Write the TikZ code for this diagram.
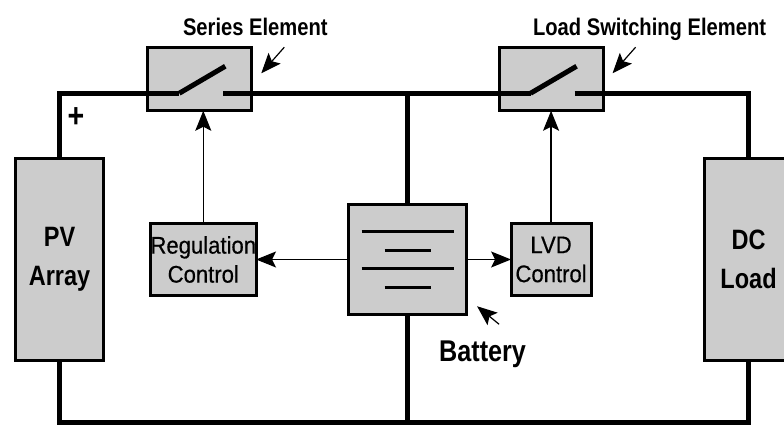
\documentclass[tikz,border=0pt]{standalone}
\usepackage{fontspec}
\usepackage{tikz}
\usetikzlibrary{
    arrows.meta,
    positioning,
    calc
}
\setmainfont{Liberation Sans}
\newfontfamily\blockfont[FakeStretch=0.92,FakeBold=0.5]{Liberation Sans}
\newfontfamily\labelfont[FakeStretch=0.84]{Liberation Sans Bold}
\definecolor{blockgray}{RGB}{204,204,204}

\begin{document}
\begin{tikzpicture}[
    x=1pt,
    y=1pt,
    blockbox/.style={
        draw=black,
        line width=3pt,
        fill=blockgray,
        align=center,
        outer sep=0pt,
        inner sep=0pt,
        text=black
    },
    sourcebox/.style={
        blockbox,
        minimum width=88pt,
        minimum height=202pt,
        font=\labelfont\fontsize{28}{39}\selectfont
    },
    controlbox/.style={
        blockbox,
        minimum height=72.5pt,
        font=\blockfont\fontsize{24}{29}\selectfont
    },
    switchbox/.style={
        blockbox,
        minimum width=104pt,
        minimum height=63pt
    },
    railline/.style={
        line width=5pt,
        draw=black
    },
    plateline/.style={
        line width=3pt,
        draw=black
    },
    ctrlarrow/.style={
        -{Stealth[length=20pt,width=16pt,inset=4pt]},
        line width=1.2pt,
        draw=black
    },
    pointerarrow/.style={
        -{Stealth[length=20pt,width=16pt,inset=4pt]},
        line width=1.2pt,
        draw=black
    },
    tagtext/.style={
        font=\labelfont\fontsize{24}{28}\selectfont,
        text depth=0pt,
        inner sep=0pt
    }
]

\useasboundingbox (0,0) rectangle (784,425);

\node[sourcebox] (pv) at (59.5,165.5) {PV\\Array};

\node[
    controlbox,
    minimum width=104pt,
    right=47pt of pv
] (regulation) {Regulation\\Control};

\node[
    blockbox,
    minimum width=118pt,
    minimum height=109.5pt,
    right=92.5pt of regulation
] (battery) {};

\node[
    controlbox,
    minimum width=80pt,
    right=44.5pt of battery
] (lvd) {LVD\\Control};

\node[
    sourcebox,
    minimum width=89pt,
    right=113pt of lvd
] (dcload) {DC\\Load};

\node[
    switchbox,
    above=112.5pt of regulation,
    xshift=-3.5pt
] (series) {};

\node[
    switchbox,
    above=112.5pt of lvd
] (loadsw) {};

\node[tagtext, above=12.5pt of series, xshift=55.5pt] (seriestag) {Series Element};
\node[tagtext, above=12.5pt of loadsw, xshift=98.5pt] (loadtag) {Load Switching Element};
\node[tagtext, font=\labelfont\fontsize{30}{34}\selectfont, text height=21pt, below=26pt of battery, xshift=75pt] (batterytag) {Battery};
\node[tagtext, font=\labelfont\fontsize{34}{34}\selectfont, above right=31pt and 8pt of pv.north] (plus) {+};

% switch contacts
\foreach \sw in {series,loadsw} {
    \coordinate (\sw in) at ($(\sw.center)+(-20.5,-14)$);
    \coordinate (\sw out) at ($(\sw.center)+(23.5,-14)$);
    \coordinate (\sw blade) at ($(\sw.center)+(25.5,13)$);
    \draw[railline] (\sw in) -- (\sw blade);
}

\coordinate (pvfoot) at ($(pv.south)+(0,-62)$);
\coordinate (dcfoot) at (dcload.south |- pvfoot);

% main rails
\draw[railline] (pv.north) |- (seriesin);
\draw[railline] (seriesout) -- (loadswin);
\draw[railline] (loadswout) -| (dcload.north);
\draw[railline] (seriesout -| battery.north) -- (battery.north);
\draw[railline] (pv.south) -- (pvfoot) -- (dcfoot) -- (dcload.south);
\draw[railline] (battery.south) -- (battery.south |- pvfoot);

% battery plates
\foreach \yplate/\halflen in {28/46,9/23,-9/46,-28/23} {
    \draw[plateline] ($(battery.center)+(-\halflen,\yplate)$) -- ($(battery.center)+(\halflen,\yplate)$);
}

\draw[ctrlarrow] (regulation.north) -- (regulation.north |- series.south);
\draw[ctrlarrow] (lvd.north) -- (lvd.north |- loadsw.south);
\draw[ctrlarrow] (battery.west) -- (regulation.east);
\draw[ctrlarrow] (battery.east) -- (lvd.west);

\coordinate (seriestail) at ($(series.east)+(32.5,32)$);
\coordinate (serieshead) at ($(series.east)+(9.5,6)$);
\coordinate (loadtail) at ($(loadsw.east)+(32.5,32)$);
\coordinate (loadhead) at ($(loadsw.east)+(9.5,6)$);
\coordinate (batterytail) at ($(battery.south east)+(32.5,-10)$);
\coordinate (batteryhead) at ($(battery.south east)+(10.5,8)$);

\draw[pointerarrow] (seriestail) -- (serieshead);
\draw[pointerarrow] (loadtail) -- (loadhead);
\draw[pointerarrow] (batterytail) -- (batteryhead);

\end{tikzpicture}
\end{document}
